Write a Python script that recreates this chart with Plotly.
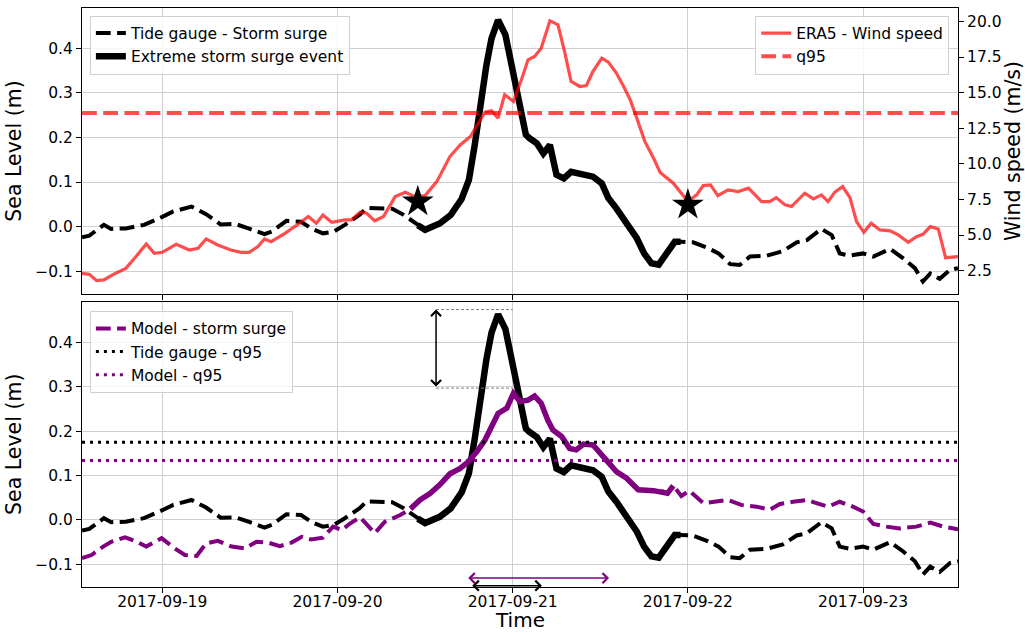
import pandas as pd
import plotly.graph_objects as go

# ---------------- data (hours relative to 2017-09-19 00:00) ----------------
BASE = pd.Timestamp("2017-09-19 00:00")
X_START_H, X_END_H = -11, 109

obs_hours = [-11, -10, -8, -7, -5, -2.5, 0, 1.5, 4, 6, 8, 10, 12, 14, 15, 17, 19, 20.5, 22, 23.5,
             25, 27, 28, 30, 31.5, 33, 35, 36, 38, 39.5, 41, 42, 42.8, 43.5, 44.4, 45.1, 46, 47,
             47.8, 48.5, 49.2, 49.8, 50.3, 51.3, 52.2, 53.1, 54, 55, 56, 57.7, 59, 60.2, 61.1,
             62.2, 63.8, 65, 66, 67, 68, 69, 70.2, 71, 72.7, 74.6, 76.2, 77.8, 79.1, 80.5, 82.8,
             85, 86.9, 88.3, 90.3, 91.7, 92.8, 94.2, 96, 97.4, 99.7, 101.5, 103.1, 104.2, 105.2,
             106.5, 107.9, 109]
obs_vals = [-0.024, -0.020, 0.004, -0.005, -0.004, 0.004, 0.022, 0.034, 0.045, 0.028, 0.005,
            0.006, -0.005, -0.017, -0.011, 0.013, 0.011, -0.005, -0.015, -0.011, 0.004, 0.026,
            0.042, 0.042, 0.040, 0.027, 0.003, -0.007, 0.007, 0.026, 0.062, 0.105, 0.183, 0.273,
            0.362, 0.422, 0.463, 0.430, 0.370, 0.303, 0.250, 0.206, 0.198, 0.187, 0.164, 0.183,
            0.116, 0.108, 0.123, 0.117, 0.112, 0.097, 0.064, 0.041, 0.004, -0.026, -0.060,
            -0.082, -0.085, -0.060, -0.034, -0.034, -0.035, -0.047, -0.060, -0.084, -0.086,
            -0.067, -0.065, -0.055, -0.035, -0.030, -0.005, -0.019, -0.060, -0.065, -0.060,
            -0.067, -0.050, -0.071, -0.093, -0.123, -0.105, -0.117, -0.097, -0.093]

wind_hours = [-11, -10, -9, -8, -6.7, -5, -3.8, -2.2, -1.1, 0, 1.9, 3.7, 4.9, 6, 7.6, 9.4, 10.8,
              11.9, 13.1, 14, 14.9, 16.8, 18.6, 20, 21.1, 22, 23.2, 25, 25.9, 27.1, 28, 29.1,
              30.3, 31.9, 33.3, 34.6, 36, 37.6, 39.4, 40.8, 42.2, 43.1, 44.2, 45.1, 46, 46.9,
              48.1, 49.2, 50.1, 51, 51.9, 53.1, 54.2, 55.1, 56, 57.2, 58.1, 59, 60.2, 61.1, 62.2,
              63.2, 64.1, 65, 66.1, 67.3, 68.2, 70, 72, 73.2, 74.1, 75.1, 76.1, 77.5, 78.9, 80.3,
              82.1, 83.2, 84.1, 85.3, 86.2, 88, 89.2, 90.3, 91.2, 92.1, 93.2, 94.2, 95.1, 96.1,
              97.1, 98.3, 99.7, 100.8, 102.2, 103.3, 104.2, 105.2, 106.3, 107.3, 109]
wind_vals = [2.31, 2.24, 1.80, 1.85, 2.24, 2.66, 3.37, 4.37, 3.72, 3.79, 4.35, 3.95, 4.07, 4.73,
             4.30, 3.95, 3.79, 3.79, 4.19, 4.73, 4.54, 5.12, 5.76, 6.30, 5.83, 6.41, 5.90, 6.06,
             6.06, 6.60, 6.53, 6.00, 6.30, 7.70, 8.00, 7.70, 7.77, 8.75, 10.51, 11.33, 11.92,
             12.74, 13.63, 13.72, 13.21, 14.85, 14.38, 15.90, 17.30, 17.54, 18.12, 20.05, 19.76,
             17.89, 15.78, 15.43, 15.50, 16.49, 17.42, 17.14, 16.37, 15.43, 14.49, 13.21, 11.57,
             10.39, 9.40, 8.64, 7.35, 7.82, 8.47, 8.52, 7.77, 8.17, 8.05, 8.29, 7.35, 7.35, 7.63,
             7.12, 7.00, 7.94, 7.54, 7.82, 7.35, 8.00, 8.40, 7.63, 5.94, 5.19, 5.83, 5.36, 5.29,
             5.01, 4.49, 4.89, 5.05, 5.59, 5.43, 3.41, 3.48]

model_hours = [-11, -9.7, -8.1, -7, -5.1, -3.5, -2.2, -0.1, 1.7, 3.1, 4.7, 6, 7.6, 9.5, 11.3,
               12.9, 14.5, 16.1, 17.7, 19.1, 20.4, 22, 23.4, 24.6, 25.7, 27.1, 28.5, 29.1, 30.5,
               32.6, 34, 35.3, 36.7, 38, 39.4, 40.8, 41.9, 43.1, 44.2, 45.3, 46, 47.2, 48.1, 49,
               50.1, 51, 51.9, 52.8, 53.5, 54.7, 55.8, 56.7, 57.7, 59, 59.9, 61.1, 62.2, 63.6,
               65.2, 67.3, 68.6, 69.2, 70, 71.1, 72.2, 74.1, 75.9, 77.5, 79.3, 81.4, 83.2, 84.6,
               86.4, 88.3, 89.6, 91.2, 92.8, 94.6, 96, 97.4, 99.2, 101, 103.3, 105.2, 107, 109]
model_vals = [-0.086, -0.079, -0.060, -0.049, -0.039, -0.049, -0.060, -0.041, -0.064, -0.079,
              -0.081, -0.053, -0.047, -0.060, -0.064, -0.049, -0.051, -0.059, -0.051, -0.038,
              -0.044, -0.040, -0.015, -0.023, -0.008, 0.006, -0.019, -0.030, -0.004, 0.011,
              0.025, 0.045, 0.060, 0.079, 0.104, 0.116, 0.131, 0.154, 0.180, 0.214, 0.240, 0.252,
              0.285, 0.267, 0.270, 0.279, 0.263, 0.225, 0.203, 0.188, 0.161, 0.158, 0.171, 0.169,
              0.152, 0.131, 0.109, 0.094, 0.068, 0.066, 0.064, 0.060, 0.077, 0.054, 0.066, 0.038,
              0.041, 0.045, 0.034, 0.030, 0.023, 0.036, 0.041, 0.045, 0.038, 0.030, 0.041, 0.030,
              0.019, -0.009, -0.015, -0.019, -0.015, -0.006, -0.015, -0.021]

OBS_EVENT = (35, 71)      # extreme event window, tide gauge (hours)
MODEL_EVENT = (34, 70)    # extreme event window, model (hours)

WIND_Q95 = 13.56
OBS_Q95 = 0.175
MODEL_Q95 = 0.134

star_hours = [35, 72]
star_wind = [7.35, 7.12]

# annotations: peak difference (vertical) and durations above q95 (horizontal)
PEAK_ARROW_H = 37.5
PEAK_LINE_END_H = 48
OBS_PEAK_LINE = 0.474
MODEL_PEAK_LINE = 0.297
MODEL_DUR = (41.7, 61.2, -0.131)
OBS_DUR = (42.25, 52.0, -0.148)


def t(h):
    return BASE + pd.to_timedelta(h, unit="h")


def tt(hs):
    return [t(h) for h in hs]


def window(hs, vs, w):
    pairs = [(h, v) for h, v in zip(hs, vs) if w[0] <= h <= w[1]]
    return [p[0] for p in pairs], [p[1] for p in pairs]


obs_ev_h, obs_ev_v = window(obs_hours, obs_vals, OBS_EVENT)
mod_ev_h, mod_ev_v = window(model_hours, model_vals, MODEL_EVENT)
span = [t(X_START_H), t(X_END_H)]

RED = "rgba(255,0,0,0.7)"
PURPLE = "#800080"
DASH = "14.8px,6.4px"
DOT = "3px,5px"
FONT = "DejaVu Sans"

fig = go.Figure()

# ---------- top panel ----------
fig.add_trace(go.Scatter(x=tt(obs_hours), y=obs_vals, mode="lines", name="Tide gauge - Storm surge",
                         line=dict(color="black", width=4, dash=DASH), xaxis="x", yaxis="y",
                         legend="legend"))
fig.add_trace(go.Scatter(x=tt(obs_ev_h), y=obs_ev_v, mode="lines", name="Extreme storm surge event",
                         line=dict(color="black", width=6.5), xaxis="x", yaxis="y",
                         legend="legend"))
fig.add_trace(go.Scatter(x=tt(wind_hours), y=wind_vals, mode="lines", name="ERA5 - Wind speed",
                         line=dict(color=RED, width=3.2), xaxis="x", yaxis="y3", legend="legend2"))
fig.add_trace(go.Scatter(x=span, y=[WIND_Q95, WIND_Q95], mode="lines", name="q95",
                         line=dict(color=RED, width=4, dash=DASH), xaxis="x", yaxis="y3",
                         legend="legend2"))
fig.add_trace(go.Scatter(x=tt(star_hours), y=star_wind, mode="markers", showlegend=False,
                         marker=dict(symbol="star", size=24, color="black"), xaxis="x", yaxis="y3"))

# ---------- bottom panel ----------
fig.add_trace(go.Scatter(x=tt(obs_hours), y=obs_vals, mode="lines", showlegend=False,
                         line=dict(color="black", width=4, dash=DASH), xaxis="x2", yaxis="y2"))
fig.add_trace(go.Scatter(x=tt(obs_ev_h), y=obs_ev_v, mode="lines", showlegend=False,
                         line=dict(color="black", width=6.5), xaxis="x2", yaxis="y2"))
fig.add_trace(go.Scatter(x=tt(model_hours), y=model_vals, mode="lines", name="Model - storm surge",
                         line=dict(color=PURPLE, width=4, dash=DASH), xaxis="x2", yaxis="y2",
                         legend="legend3"))
fig.add_trace(go.Scatter(x=tt(mod_ev_h), y=mod_ev_v, mode="lines", showlegend=False,
                         line=dict(color=PURPLE, width=5.5), xaxis="x2", yaxis="y2"))
fig.add_trace(go.Scatter(x=span, y=[OBS_Q95, OBS_Q95], mode="lines", name="Tide gauge - q95",
                         line=dict(color="black", width=3, dash=DOT), xaxis="x2", yaxis="y2",
                         legend="legend3"))
fig.add_trace(go.Scatter(x=span, y=[MODEL_Q95, MODEL_Q95], mode="lines", name="Model - q95",
                         line=dict(color=PURPLE, width=3, dash=DOT), xaxis="x2", yaxis="y2",
                         legend="legend3"))

# thin gray reference lines at the peaks
for yv in (OBS_PEAK_LINE, MODEL_PEAK_LINE):
    fig.add_shape(type="line", xref="x2", yref="y2", x0=t(PEAK_ARROW_H), x1=t(PEAK_LINE_END_H),
                  y0=yv, y1=yv, line=dict(color="gray", width=1, dash="3px,2px"))

annots = [
    dict(x=t(PEAK_ARROW_H), y=OBS_PEAK_LINE, ax=t(PEAK_ARROW_H), ay=MODEL_PEAK_LINE,
         color="black"),
    dict(x=t(MODEL_DUR[1]), y=MODEL_DUR[2], ax=t(MODEL_DUR[0]), ay=MODEL_DUR[2], color=PURPLE),
    dict(x=t(OBS_DUR[1]), y=OBS_DUR[2], ax=t(OBS_DUR[0]), ay=OBS_DUR[2], color="black"),
]
for a in annots:
    fig.add_annotation(x=a["x"], y=a["y"], ax=a["ax"], ay=a["ay"], xref="x2", yref="y2",
                       axref="x2", ayref="y2", text="", showarrow=True, arrowside="end+start",
                       arrowhead=4, arrowsize=1.3, arrowwidth=1.5, arrowcolor=a["color"])

# x-axis title placed as an annotation below the tick labels
fig.add_annotation(text="Time", xref="paper", yref="paper", x=0.5, y=-0.0795, showarrow=False,
                   xanchor="center", yanchor="bottom", borderpad=0,
                   font=dict(family=FONT, size=20))

axis_common = dict(showline=True, linecolor="black", linewidth=1, mirror=True, ticks="outside",
                   ticklen=5, tickcolor="black", gridcolor="#cfcfcf", gridwidth=1,
                   tickfont=dict(family=FONT, size=15.5, color="black"), zeroline=False,
                   automargin=False)
xcommon = dict(type="date", range=span, dtick=86400000, tick0=BASE, tickformat="%Y-%m-%d",
               showgrid=True, **axis_common)
legend_common = dict(bgcolor="rgba(255,255,255,0.8)", bordercolor="#d0d0d0", borderwidth=1,
                     font=dict(family=FONT, size=15.5, color="black"), yanchor="top")

fig.update_layout(
    width=1025, height=633,
    margin=dict(l=82, r=67, t=8, b=46),
    paper_bgcolor="white", plot_bgcolor="white",
    font=dict(family=FONT, color="black"),
    xaxis=dict(domain=[0, 1], anchor="y", showticklabels=False, matches="x2", **xcommon),
    xaxis2=dict(domain=[0, 1], anchor="y2", ticklabelstandoff=-5, **xcommon),
    yaxis=dict(domain=[0.506, 1], anchor="x", range=[-0.151, 0.49], dtick=0.1, tick0=0,
               tickformat=".1f", showgrid=True,
               title=dict(text="Sea Level (m)", font=dict(family=FONT, size=20.5), standoff=8),
               **axis_common),
    yaxis3=dict(overlaying="y", side="right", anchor="x", range=[0.86, 20.94], dtick=2.5, tick0=0,
                tickformat=".1f", showgrid=False,
                title=dict(text="Wind speed (m/s)", font=dict(family=FONT, size=20.5), standoff=3),
                **axis_common),
    yaxis2=dict(domain=[0, 0.493], anchor="x2", range=[-0.151, 0.492], dtick=0.1, tick0=0,
                tickformat=".1f", showgrid=True,
                title=dict(text="Sea Level (m)", font=dict(family=FONT, size=20.5), standoff=8),
                **axis_common),
    legend=dict(x=0.009, y=0.987, xanchor="left", **legend_common),
    legend2=dict(x=0.990, y=0.987, xanchor="right", **legend_common),
    legend3=dict(x=0.009, y=0.477, xanchor="left", **legend_common),
)

fig.write_html("out.html")
